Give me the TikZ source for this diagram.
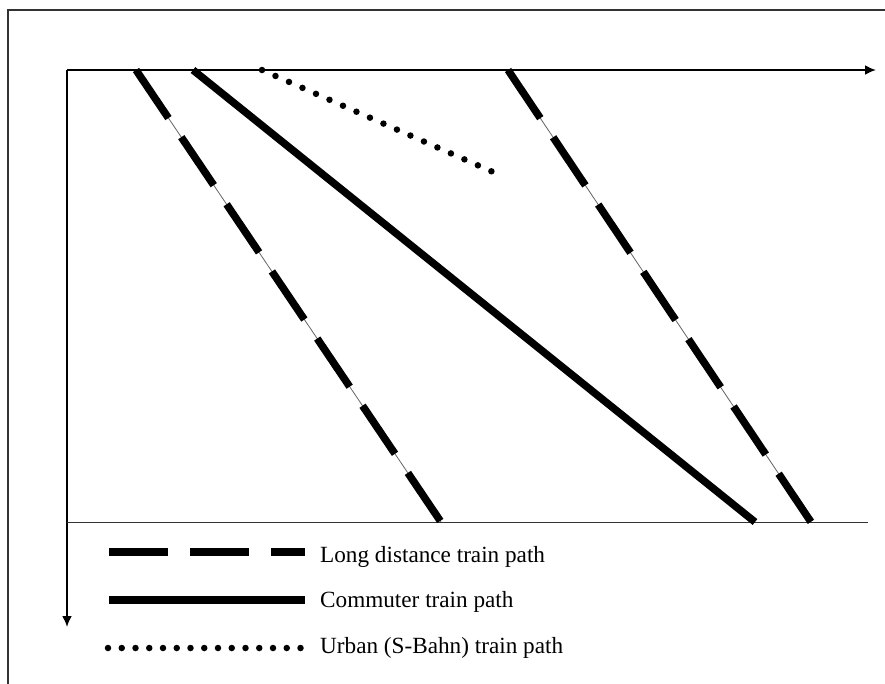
\documentclass[tikz,border=0pt]{standalone}
\usepackage{fontspec}
\setmainfont{Liberation Serif}
\usetikzlibrary{arrows.meta}
\begin{document}
\begin{tikzpicture}[x=1pt,y=-1pt,
  axis/.style={line width=2pt,-{Latex[length=11pt,width=10pt]}},
  longpath/.style={line width=7.5pt,dash pattern=on 58pt off 23pt},
  thinline/.style={line width=0.8pt,black!60},
  commuter/.style={line width=7.5pt},
  urban/.style={line width=6.5pt,line cap=round,dash pattern=on 0pt off 14.75pt},
  urbanleg/.style={line width=6.5pt,line cap=round,dash pattern=on 0pt off 13.75pt},
  lbl/.style={anchor=base west,inner sep=0pt,font=\fontsize{23.2}{27}\selectfont}]
\fill[white] (0,0) rectangle (885,683);
\useasboundingbox (0,0) rectangle (885,683);
% frame (clipped at right and bottom)
\draw[line width=1.5pt,black!80] (8,690) -- (8,10) -- (890,10);
% axes
\coordinate (O) at (67,70);
\coordinate (Xend) at (876,70);
\coordinate (Yend) at (67,627);
\coordinate (B0) at (67,522);
\coordinate (B1) at (868,522);
\draw[axis] (O) -- (Xend);
\draw[axis] (O) -- (Yend);
\draw[line width=1pt,black!80] (B0) -- (B1);
% long distance 1
\coordinate (L1a) at (136,70);
\coordinate (L1b) at (441,522);
\draw[thinline] (L1a) -- (L1b);
\draw[longpath] (L1a) -- (L1b);
% long distance 2
\coordinate (L2a) at (508,70);
\coordinate (L2b) at (811,522);
\draw[thinline] (L2a) -- (L2b);
\draw[longpath] (L2a) -- (L2b);
% commuter
\coordinate (Ca) at (193,70);
\coordinate (Cb) at (755,522);
\draw[commuter] (Ca) -- (Cb);
% urban
\coordinate (Ua) at (262,70);
\coordinate (Ub) at (493,172);
\draw[urban] (Ua) -- (Ub);
% legend
\coordinate (LL1) at (109,552);
\coordinate (LL2) at (305,552);
\coordinate (LC1) at (109,600);
\coordinate (LC2) at (305,600);
\coordinate (LU1) at (108,648);
\coordinate (LU2) at (304,648);
\draw[line width=7.5pt,dash pattern=on 59pt off 22pt] (LL1) -- (LL2);
\draw[commuter] (LC1) -- (LC2);
\draw[urbanleg] (LU1) -- (LU2);
\node[lbl] (tL) at (320,562) {Long distance train path};
\node[lbl] (tC) at (320,607) {Commuter train path};
\node[lbl] (tU) at (320,653) {Urban (S-Bahn) train path};
\end{tikzpicture}
\end{document}
